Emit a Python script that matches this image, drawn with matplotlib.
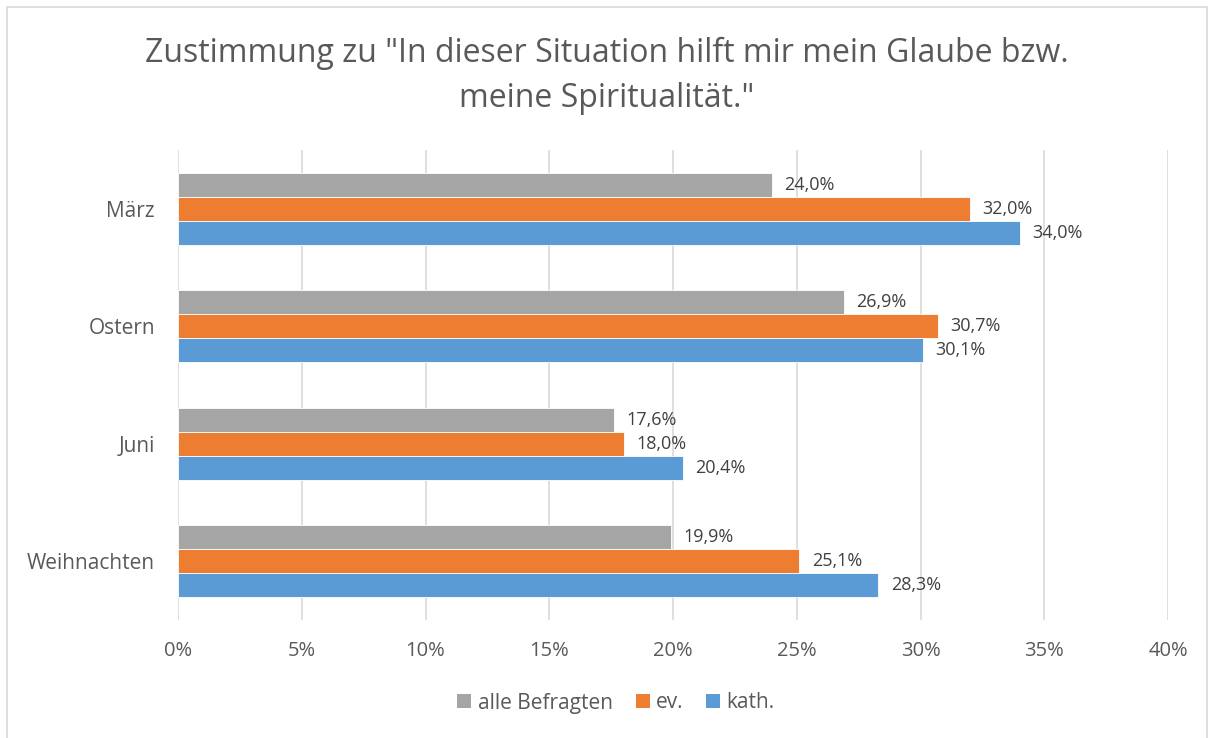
import matplotlib
matplotlib.use("Agg")
import matplotlib.pyplot as plt
from matplotlib.patches import Rectangle, Patch
import numpy as np

categories = ["März", "Ostern", "Juni", "Weihnachten"]
series_names = ["alle Befragten", "ev.", "kath."]
alle = [24.0, 26.9, 17.6, 19.9]
ev = [32.0, 30.7, 18.0, 25.1]
kath = [34.0, 30.1, 20.4, 28.3]
colors = ["#A5A5A5", "#ED7D31", "#5B9BD5"]
xticks = [0, 5, 10, 15, 20, 25, 30, 35, 40]
title = 'Zustimmung zu "In dieser Situation hilft mir mein Glaube bzw.\nmeine Spiritualität."'

plt.rcParams['font.family'] = ['Open Sans', 'DejaVu Sans']
txt = "#595959"

W, H = 1213, 738
fig = plt.figure(figsize=(W / 100, H / 100), dpi=100)
fig.patches.append(Rectangle((7 / W, -0.1), (1207 - 7) / W, 1.1 - 7 / H, transform=fig.transFigure,
                             fill=False, edgecolor="#D9D9D9", linewidth=1.2))

ax = fig.add_axes([178 / W, 1 - 620 / H, (1168 - 178) / W, (620 - 150) / H])
y = np.arange(len(categories))
bh = 0.204
for i, (vals, c) in enumerate(zip([alle, ev, kath], colors)):
    pos = y + (i - 1) * bh
    ax.barh(pos, vals, height=bh, color=c, edgecolor="white", linewidth=0.6, zorder=3,
            label=series_names[i])
    for p, v in zip(pos, vals):
        ax.annotate(f"{v:.1f}%".replace(".", ","), (v, p), xytext=(9, 0), textcoords="offset points",
                    ha="left", va="center", fontsize=13, color="#404040")

ax.set_xlim(0, 40)
ax.set_ylim(3.5, -0.5)
ax.set_xticks(xticks)
ax.set_xticklabels([f"{t}%" for t in xticks], fontsize=14.5, color=txt)
ax.set_yticks(y)
ax.set_yticklabels(categories, fontsize=15, color=txt)
ax.tick_params(axis="both", length=0)
ax.tick_params(axis="x", pad=15)
ax.tick_params(axis="y", pad=16.5)
ax.grid(axis="x", color="#D9D9D9", linewidth=1.2, zorder=0)
for s in ax.spines.values():
    s.set_visible(False)

fig.text(0.5, 1 - 76 / H, title, ha="center", va="center", fontsize=23, color=txt, linespacing=1.5)

handles = [Patch(facecolor=c, edgecolor="none") for c in colors]
fig.legend(handles, series_names, loc="center", bbox_to_anchor=(616 / W, 1 - 703 / H), ncol=3,
           frameon=False, fontsize=15, handlelength=0.67, handleheight=0.67, columnspacing=1.1,
           handletextpad=0.3, labelcolor=txt)

fig.savefig("out.png", dpi=100)
